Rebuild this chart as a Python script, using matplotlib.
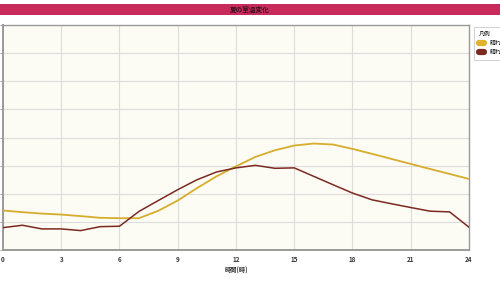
import matplotlib
matplotlib.use("Agg")
import matplotlib.pyplot as plt
from matplotlib.patches import Rectangle
from matplotlib.lines import Line2D

plt.rcParams['font.family'] = ['Noto Sans CJK JP', 'DejaVu Sans']

title = "夏の室温変化"
xlabel = "時間(時)"
legend_title = "凡例"
series_names = ["晴れ(南向き)", "晴れ(北向き)"]
hours = list(range(25))
xticks = [0, 3, 6, 9, 12, 15, 18, 21, 24]
yellow = [22.81, 22.69, 22.59, 22.52, 22.41, 22.29, 22.26, 22.26, 22.79, 23.52,
          24.41, 25.24, 25.95, 26.62, 27.09, 27.43, 27.57, 27.50, 27.19, 26.84,
          26.48, 26.12, 25.76, 25.41, 25.05]
maroon = [21.59, 21.76, 21.50, 21.50, 21.38, 21.66, 21.69, 22.74, 23.52, 24.29,
          25.00, 25.55, 25.84, 26.02, 25.81, 25.84, 25.24, 24.64, 24.05, 23.57,
          23.29, 23.02, 22.76, 22.71, 21.62]
yticks = [20, 22, 24, 26, 28, 30, 32, 34, 36]

W, H = 500, 281
fig = plt.figure(figsize=(W / 100, H / 100), dpi=100)
fig.patch.set_facecolor("white")

# title bar
fig.patches.append(Rectangle((0, 1 - 14.5 / H), 1, 10.5 / H, transform=fig.transFigure,
                             facecolor="#c92a5c", edgecolor="none"))
fig.text(0.5, 1 - 9.3 / H, title, ha="center", va="center", fontsize=4.8,
         color="#3a1020", fontweight="bold")

ax = fig.add_axes([3 / W, (H - 250) / H, 466 / W, 225 / H])
ax.set_facecolor("#fcfbf4")
ax.plot(hours, yellow, color="#d6ad2c", lw=1.3, label=series_names[0], zorder=3)
ax.plot(hours, maroon, color="#7b2a22", lw=1.1, label=series_names[1], zorder=3)

ax.set_xlim(0, 24)
ax.set_ylim(20, 36)
ax.set_xticks(xticks)
ax.set_yticks(yticks)
ax.set_yticklabels([])
ax.grid(True, color="#dcdcdc", lw=0.8)
ax.set_axisbelow(True)
ax.tick_params(axis="x", length=0, labelsize=4.5, labelcolor="#333333", pad=4)
ax.tick_params(axis="y", length=2, color="#999999", width=0.6)
for lab in ax.get_xticklabels():
    lab.set_fontweight("bold")
for s in ax.spines.values():
    s.set_color("#9a9a9a")
    s.set_linewidth(1.0)
ax.spines["left"].set_linewidth(1.4)
ax.spines["bottom"].set_linewidth(1.4)
ax.set_xlabel(xlabel, fontsize=4.5, color="#333333", labelpad=3, fontweight="bold")

handles = [Line2D([0], [0], color="#e0b12a", lw=4.5, solid_capstyle="round"),
           Line2D([0], [0], color="#7b2a22", lw=4.5, solid_capstyle="round")]
leg = fig.legend(handles, series_names, title=legend_title, loc="upper left",
                 bbox_to_anchor=(471 / W, 1 - 24 / H), fontsize=4.2,
                 title_fontsize=4.2, frameon=True, fancybox=False,
                 handlelength=1.0, handleheight=0.9, handletextpad=0.8,
                 borderpad=0.8, labelspacing=0.5, alignment="left")
leg.get_frame().set_edgecolor("#bbbbbb")
leg.get_frame().set_linewidth(0.6)

fig.savefig("out.png", dpi=100)
